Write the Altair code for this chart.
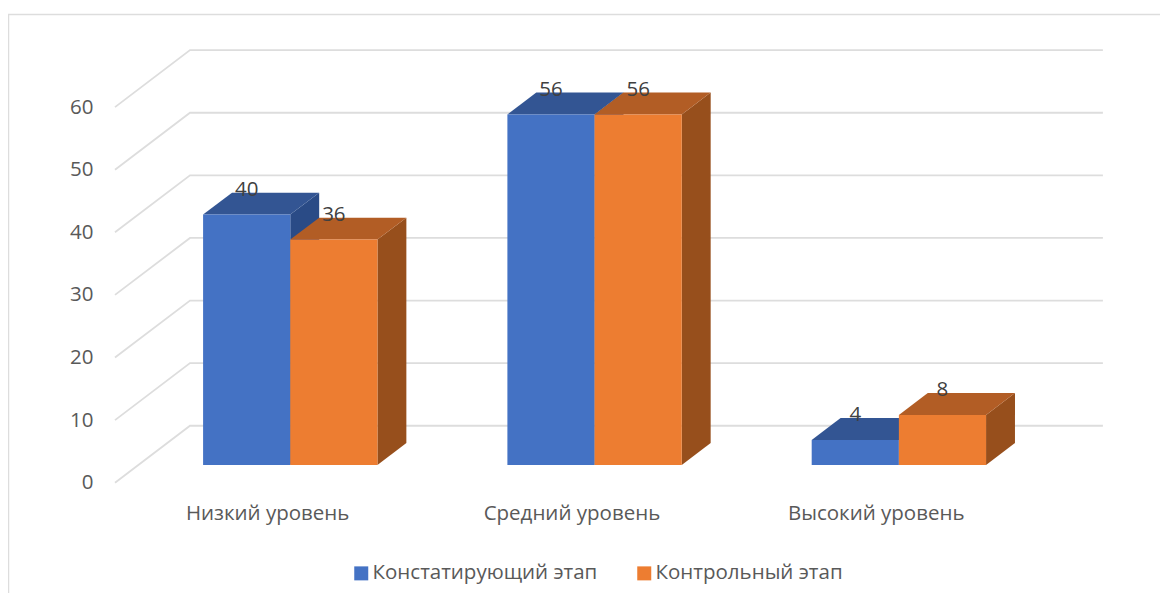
import json
import altair as alt
import pandas as pd

categories = ["Низкий уровень", "Средний уровень", "Высокий уровень"]
series_names = ["Констатирующий этап", "Контрольный этап"]
values_a = [40, 56, 4]
values_b = [36, 56, 8]
y_ticks = [0, 10, 20, 30, 40, 50, 60]

FRONT = ["#4472C4", "#ED7D31"]
TOP = ["#335593", "#B25D25"]
SIDE = ["#2A4B86", "#974F1C"]
GRID = "#DDDDDD"
FONT = "Open Sans"

W, H = 1152, 585
X_DOMAIN = [-0.3516, 3.4341]
Y_DOMAIN = [-17.62, 75.83]
BAR_LEFT, BAR_W = 0.2895, 0.2865      # category units
BASE = 2.83                           # floor lift of the bars, value units
BAR_DX, BAR_DY = 0.095, 3.5           # bar depth
WALL_DX, WALL_DY = 0.2465, 9.1        # back wall depth

x_scale = alt.Scale(domain=X_DOMAIN, range=[0, W], nice=False, zero=False)
y_scale = alt.Scale(domain=Y_DOMAIN, range=[H, 0], nice=False, zero=False)
X = lambda f="x", **k: alt.X(f"{f}:Q", scale=x_scale, **k)
Y = lambda f="y", **k: alt.Y(f"{f}:Q", scale=y_scale, **k)

# back wall and side wall gridlines
grid_rows = []
for v in y_ticks:
    for x, y in [(0, v), (WALL_DX, v + WALL_DY), (WALL_DX + 3, v + WALL_DY)]:
        grid_rows.append({"tick": v, "x": x, "y": y})
grid = alt.Chart(pd.DataFrame(grid_rows)).mark_line(
    color=GRID, strokeWidth=1.8, clip=False
).encode(
    x=X(axis=alt.Axis(
        values=[0.5, 1.5, 2.5], title=None, domain=False, ticks=False, grid=False,
        labelExpr=f"{json.dumps(categories, ensure_ascii=False)}[floor(datum.value)]",
        labelFont=FONT, labelFontSize=20.5, labelColor="#595959", labelPadding=0,
        labelBaseline="middle", labelOverlap=False, labelFlush=False, offset=-80,
    )),
    y=Y(axis=alt.Axis(
        values=y_ticks, title=None, domain=False, ticks=False, grid=False,
        labelFont=FONT, labelFontSize=20.5, labelColor="#595959", labelPadding=0,
        labelBaseline="middle", labelOverlap=False, labelFlush=False, offset=-85,
    )),
    detail="tick:N",
    order="x:Q",
)

layers = [grid]
label_rows = []
for s, vals in enumerate([values_a, values_b]):
    side, top, front = [], [], []
    for i, v in enumerate(vals):
        xl = i + BAR_LEFT + s * BAR_W
        xr = xl + BAR_W
        t = v + BASE
        side += [
            {"bar": i, "x": xr, "y": BASE, "y2": t},
            {"bar": i, "x": xr + BAR_DX, "y": BASE + BAR_DY, "y2": t + BAR_DY},
        ]
        top += [
            {"bar": i, "x": xl, "y": t, "y2": t},
            {"bar": i, "x": xl + BAR_DX, "y": t, "y2": t + BAR_DY},
            {"bar": i, "x": xr, "y": t, "y2": t + BAR_DY},
            {"bar": i, "x": xr + BAR_DX, "y": t + BAR_DY, "y2": t + BAR_DY},
        ]
        front.append({"series": series_names[s], "x": xl, "x2": xr, "y": BASE, "y2": t})
        label_rows.append({"x": (xl + xr) / 2, "y": t, "value": v})
    for rows, colr in [(side, SIDE[s]), (top, TOP[s])]:
        layers.append(alt.Chart(pd.DataFrame(rows)).mark_area(color=colr, orient="vertical").encode(
            x=X(), y=Y(), y2=alt.Y2("y2:Q"), detail="bar:N"))
    layers.append(alt.Chart(pd.DataFrame(front)).mark_rect().encode(
        x=X(), x2="x2:Q", y=Y(), y2="y2:Q",
        color=alt.Color("series:N",
            scale=alt.Scale(domain=series_names, range=FRONT),
            legend=alt.Legend(
                title=None, orient="none", legendX=343, legendY=555, direction="horizontal",
                columns=2, columnPadding=36, symbolType="square", symbolSize=196,
                symbolStrokeWidth=0, labelFont=FONT, labelFontSize=20.5, labelColor="#595959",
                labelOffset=1, padding=0, labelLimit=400,
            )),
    ))

labels = alt.Chart(pd.DataFrame(label_rows)).mark_text(
    font=FONT, fontSize=20.5, color="#404040", dy=-24.5, baseline="middle"
).encode(x=X(), y=Y(), text="value:Q")
layers.append(labels)

frame_h = alt.Chart(pd.DataFrame({"a": [0]})).mark_rule(color=GRID, strokeWidth=1.5).encode(
    x=alt.value(0), x2=alt.value(W), y=alt.value(6.5))
frame_v = alt.Chart(pd.DataFrame({"a": [0]})).mark_rule(color=GRID, strokeWidth=1.5).encode(
    x=alt.value(0.5), y=alt.value(6.5), y2=alt.value(H))
layers += [frame_h, frame_v]

chart = alt.layer(*layers).properties(
    width=W, height=H, padding=0, background="white",
    autosize=alt.AutoSizeParams(type="none"),
).configure_view(stroke=None)

chart.save("out.html", embed_options={"renderer": "svg", "actions": False})
